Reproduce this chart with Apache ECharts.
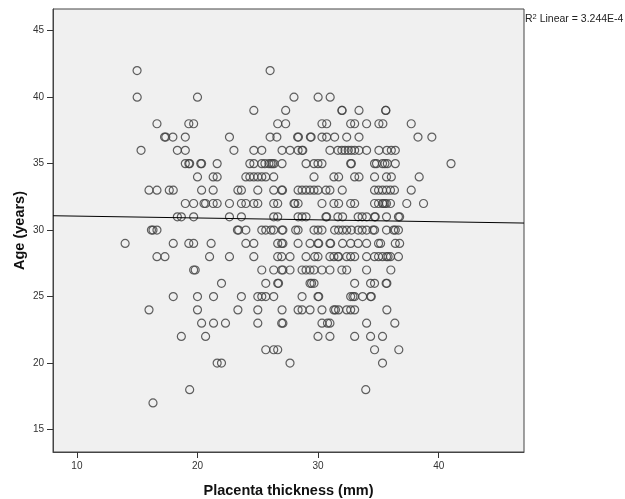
<!DOCTYPE html>
<html><head><meta charset="utf-8">
<script src="https://cdn.jsdelivr.net/npm/echarts@6/dist/echarts.min.js"></script>
<style>html,body{margin:0;padding:0;background:#fff}#c{width:625px;height:499px}</style>
</head><body><div id="c"></div>
<script>
// Age levels (years) and placenta thickness (mm) read for each age row
const ageLevels = [42,40,39,38,37,36,35,34,33,32,31,30,29,28,27,26,25,24,23,22,21,20,18,17];
const thicknessRows = [
 [14.99,26.02],
 [15.0,20.0,28.0,30.0,31.0],
 [24.67,27.31,31.97,31.99,33.39,35.6,35.62],
 [16.64,19.28,19.68,26.65,27.31,30.32,30.71,32.70,33.03,34.02,35.04,35.37,37.72],
 [17.27,17.37,17.96,18.99,22.65,26.02,26.58,28.30,28.37,29.36,29.42,30.32,30.71,31.37,32.37,33.39,38.28,39.43],
 [15.32,18.33,18.99,23.02,24.67,25.33,27.01,27.67,28.34,28.67,28.73,30.98,31.64,31.97,32.23,32.50,32.76,33.03,33.39,34.02,35.04,35.70,36.07,36.40],
 [18.99,19.28,19.35,20.27,20.34,21.63,24.34,24.67,25.33,25.59,25.92,26.09,26.22,26.35,27.01,29.00,29.66,29.99,30.32,32.70,32.76,34.68,34.84,35.34,35.54,35.74,36.40,41.02],
 [20.0,21.30,21.63,24.01,24.34,24.67,25.0,25.33,25.66,26.32,29.66,31.31,31.70,33.03,33.39,34.68,35.67,36.07,38.38],
 [15.98,16.64,17.66,17.99,20.34,21.30,23.35,23.64,25.0,26.32,26.98,27.05,28.34,28.67,29.0,29.33,29.66,29.99,30.65,30.98,32.0,34.68,35.01,35.34,35.67,36.0,36.33,37.72],
 [18.99,19.68,20.54,20.67,21.30,21.63,22.65,23.64,24.01,24.67,25.0,26.32,26.65,28.0,28.07,28.34,30.32,31.31,31.70,32.70,33.03,34.68,35.01,35.34,35.41,35.54,35.67,36.0,37.35,38.74],
 [18.33,18.66,19.68,22.65,23.64,26.32,26.65,28.34,28.67,29.0,30.65,30.71,31.64,32.03,33.32,33.65,34.02,34.68,34.74,35.67,36.66,36.76],
 [16.18,16.31,16.64,23.31,23.41,24.01,25.33,25.66,26.09,26.32,27.01,27.08,28.14,28.34,29.66,29.99,30.32,31.37,31.70,32.03,32.37,32.76,33.32,33.65,34.02,34.55,34.68,35.67,36.26,36.40,36.66],
 [14.0,17.99,19.28,19.68,21.13,24.01,24.67,26.65,26.98,27.08,28.34,29.33,29.99,30.05,30.98,31.04,32.03,32.70,33.32,34.02,35.01,35.18,36.40,36.76],
 [16.64,17.30,21.0,22.65,24.67,26.65,26.98,27.67,29.0,29.72,29.99,30.98,31.31,31.64,31.70,32.37,32.70,33.03,34.02,34.68,35.01,35.34,35.67,35.80,36.0,36.66],
 [19.68,19.81,25.33,26.32,26.98,27.08,27.67,28.67,29.0,29.33,29.66,30.32,30.98,31.97,32.37,34.02,36.03],
 [21.99,25.66,26.65,26.72,29.33,29.46,29.66,33.03,34.35,34.68,35.64,35.70],
 [17.99,20.0,21.33,23.64,25.0,25.33,25.66,26.32,28.67,29.99,30.05,32.70,32.89,33.03,33.69,34.35,34.41],
 [15.98,20.0,23.35,25.0,27.01,28.34,28.67,29.33,30.32,31.31,31.44,31.70,32.37,32.70,33.03,35.70],
 [20.34,21.33,22.32,25.0,26.98,27.08,30.32,30.78,30.98,34.02,36.36],
 [18.66,20.67,29.99,30.98,33.03,34.35,35.34],
 [25.66,26.32,26.65,34.68,36.69],
 [21.63,21.99,27.67,35.34],
 [19.35,33.95],
 [16.31]
];
const xTicks = [10,20,30,40];
const yTicks = [15,20,25,30,35,40,45];
// Linear fit line as drawn in the reference (SPSS fit line)
const fitIntercept = 31.193;
const fitSlope = -0.01408;
const r2Text = '3.244E-4';

const xMin = 8.02, xMax = 47.07, yMin = 13.31, yMax = 46.63;

const points = [];
ageLevels.forEach((age, i) => thicknessRows[i].forEach(t => points.push([t, age])));
const fitLine = [[xMin, fitIntercept + fitSlope * xMin], [xMax, fitIntercept + fitSlope * xMax]];

const chart = echarts.init(document.getElementById('c'), null, {renderer: 'canvas'});
const font = "'Liberation Sans', Arial, sans-serif";
chart.setOption({
  animation: false,
  backgroundColor: '#fff',
  grid: {left: 53, right: 101, top: 9, bottom: 47, show: true, backgroundColor: '#f0f0f0', borderColor: '#444', borderWidth: 1, containLabel: false, outerBoundsMode: 'none'},
  xAxis: {
    type: 'value', min: xMin, max: xMax,
    name: 'Placenta thickness (mm)', nameLocation: 'middle', nameGap: 31, nameMoveOverlap: false,
    nameTextStyle: {fontFamily: font, fontSize: 14.5, fontWeight: 'bold', color: '#111'},
    axisLine: {show: true, lineStyle: {color: '#444', width: 1}},
    axisTick: {show: true, length: 6, lineStyle: {color: '#333'}, customValues: xTicks},
    axisLabel: {fontFamily: font, fontSize: 10, color: '#333', margin: 9, customValues: xTicks},
    splitLine: {show: false}
  },
  yAxis: {
    type: 'value', min: yMin, max: yMax,
    name: 'Age (years)', nameLocation: 'middle', nameGap: 26, nameMoveOverlap: false,
    nameTextStyle: {fontFamily: font, fontSize: 14.5, fontWeight: 'bold', color: '#111'},
    axisLine: {show: true, lineStyle: {color: '#444', width: 1}},
    axisTick: {show: true, length: 6, lineStyle: {color: '#333'}, customValues: yTicks},
    axisLabel: {fontFamily: font, fontSize: 10, color: '#333', margin: 9, customValues: yTicks},
    splitLine: {show: false}
  },
  graphic: [{
    type: 'text', left: 525, top: 13,
    style: {
      rich: {
        n: {fontFamily: font, fontSize: 10.5, fill: '#222'},
        s: {fontFamily: font, fontSize: 7.5, fill: '#222', verticalAlign: 'top', padding: [0,0,5,0]}
      },
      text: '{n|R}{s|2}{n| Linear = ' + r2Text + '}'
    }
  }],
  series: [{
    type: 'scatter', data: points, symbol: 'circle', symbolSize: 8,
    itemStyle: {color: 'rgba(0,0,0,0)', borderColor: '#444', borderWidth: 1.2, opacity: 0.85},
    emphasis: {disabled: true}, z: 2
  }, {
    type: 'line', data: fitLine, showSymbol: false, symbol: 'none',
    lineStyle: {color: '#000', width: 1}, z: 3, silent: true
  }]
});
</script></body></html>
